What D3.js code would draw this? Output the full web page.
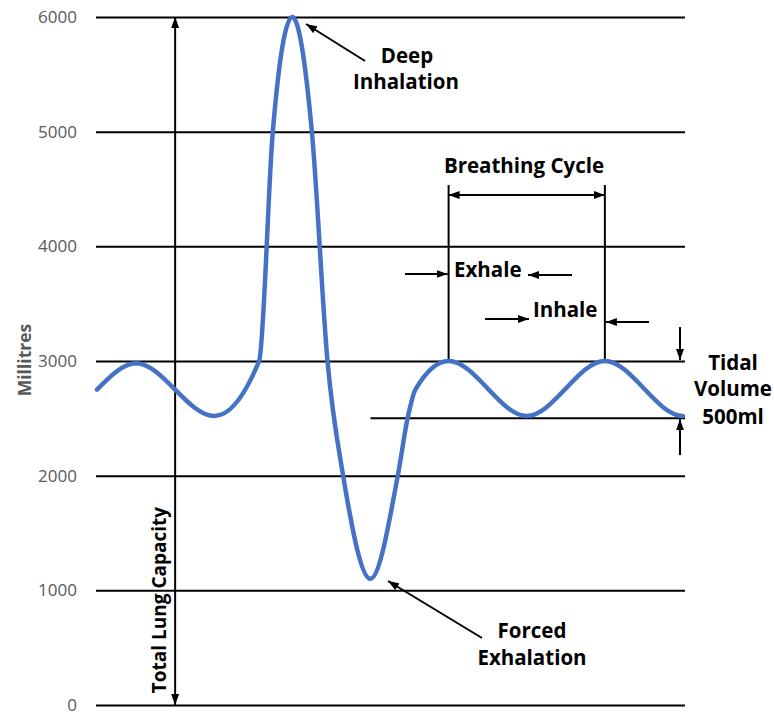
<!DOCTYPE html>
<html>
<head>
<meta charset="utf-8">
<script src="https://cdn.jsdelivr.net/npm/d3@7"></script>
<style>
  body { margin: 0; background: #fff; }
  svg text { font-family: "Open Sans", "Noto Sans", sans-serif; }
  .note { font-weight: 700; fill: #000; }
</style>
</head>
<body>
<svg id="chart" width="774" height="712"></svg>
<script>
// Spirometer trace: lung volume (ml) against time (arbitrary steps)
const timeSteps = [0, 1, 3, 4.15, 4.5, 5, 5.5, 5.9, 6.3, 7, 7.7, 7.95, 8.15, 9, 11, 13, 15];
const volumeMl  = [2750, 2980, 2520, 3000, 5000, 6000, 5000, 3000, 2000, 1100, 2000, 2500, 2750, 3000, 2520, 3000, 2520];
const yTickValues = [0, 1000, 2000, 3000, 4000, 5000, 6000];

const svg = d3.select('#chart');
const gridLeft = 96, gridRight = 685;
const x = d3.scaleLinear().domain([0, 15]).range([97, 683]);
const y = d3.scaleLinear().domain([0, 6000]).range([705, 17]);

// arrowhead marker
const defs = svg.append('defs');
defs.append('marker')
  .attr('id', 'head')
  .attr('viewBox', '0 0 11 8')
  .attr('refX', 11).attr('refY', 4)
  .attr('markerWidth', 11).attr('markerHeight', 8)
  .attr('markerUnits', 'userSpaceOnUse')
  .attr('orient', 'auto-start-reverse')
  .append('path').attr('d', 'M0,0L11,4L0,8Z').attr('fill', '#000');

// horizontal gridlines with value labels
const axis = d3.axisLeft(y)
  .tickValues(yTickValues)
  .tickSize(-(gridRight - gridLeft))
  .tickPadding(19)
  .tickFormat(d3.format('d'));
const gAxis = svg.append('g').attr('transform', `translate(${gridLeft},0)`).call(axis);
gAxis.select('.domain').remove();
gAxis.selectAll('.tick line').attr('stroke', '#000').attr('stroke-width', 2);
gAxis.selectAll('.tick text')
  .attr('fill', '#595959')
  .style('font-family', '"Open Sans", sans-serif')
  .style('font-size', '17px');

// axis title
svg.append('text')
  .attr('transform', 'translate(31,360) rotate(-90)')
  .attr('text-anchor', 'middle')
  .attr('fill', '#595959')
  .style('font-weight', 700)
  .style('font-size', '17.5px')
  .text('Millitres');

// helpers for straight arrows and bold notes
function arrow(x1, y1, x2, y2, both) {
  const l = svg.append('line')
    .attr('x1', x1).attr('y1', y1).attr('x2', x2).attr('y2', y2)
    .attr('stroke', '#000').attr('stroke-width', 2)
    .attr('marker-end', 'url(#head)');
  if (both) l.attr('marker-start', 'url(#head)');
  return l;
}
function note(tx, ty, str, anchor) {
  return svg.append('text').attr('class', 'note')
    .attr('x', tx).attr('y', ty)
    .attr('text-anchor', anchor || 'middle')
    .style('font-size', '20.5px')
    .text(str);
}

// total lung capacity span
arrow(x(2), y(0), x(2), y(6000), true);
svg.append('text').attr('class', 'note')
  .attr('transform', `translate(${x(2) - 9},600) rotate(-90)`)
  .attr('text-anchor', 'middle')
  .style('font-size', '19px')
  .text('Total Lung Capacity');

// tidal volume reference line at 2500 ml
svg.append('line')
  .attr('x1', x(7)).attr('x2', gridRight)
  .attr('y1', y(2500)).attr('y2', y(2500))
  .attr('stroke', '#000').attr('stroke-width', 2);

// breathing cycle bracket
[9, 13].forEach(t => {
  svg.append('line')
    .attr('x1', x(t)).attr('x2', x(t))
    .attr('y1', 185).attr('y2', y(3000))
    .attr('stroke', '#000').attr('stroke-width', 2);
});
arrow(x(9), 195, x(13), 195, true);
note(524, 173, 'Breathing Cycle');

// exhale / inhale markers
arrow(405, 274, x(9) - 1, 274);
note(454, 277, 'Exhale', 'start');
arrow(572, 275, 528, 275);
arrow(485, 319, 529, 319);
note(533, 317, 'Inhale', 'start');
arrow(649, 322, x(13) + 1, 322);

// tidal volume arrows
arrow(680, 327, 680, y(3000) - 1);
arrow(680, 455, 680, y(2500) + 1);
note(733, 370, 'Tidal');
note(733, 396, 'Volume');
note(733, 424, '500ml');

// monotone cubic through the readings; the trace comes to rest at its last reading
function tracePath(pts) {
  const n = pts.length, m = new Array(n).fill(0);
  for (let i = 1; i < n - 1; i++) {
    const h0 = pts[i][0] - pts[i - 1][0], h1 = pts[i + 1][0] - pts[i][0];
    const s0 = (pts[i][1] - pts[i - 1][1]) / h0, s1 = (pts[i + 1][1] - pts[i][1]) / h1;
    const p = (s0 * h1 + s1 * h0) / (h0 + h1);
    m[i] = (Math.sign(s0) + Math.sign(s1)) * Math.min(Math.abs(s0), Math.abs(s1), 0.5 * Math.abs(p)) || 0;
  }
  m[0] = (3 * (pts[1][1] - pts[0][1]) / (pts[1][0] - pts[0][0]) - m[1]) / 2;
  m[n - 1] = 0;
  const path = d3.path();
  path.moveTo(pts[0][0], pts[0][1]);
  for (let i = 1; i < n; i++) {
    const [x0, y0] = pts[i - 1], [x1, y1] = pts[i], dx = (x1 - x0) / 3;
    path.bezierCurveTo(x0 + dx, y0 + dx * m[i - 1], x1 - dx, y1 - dx * m[i], x1, y1);
  }
  return path.toString();
}

const tracePoints = timeSteps.map((t, i) => [x(t), y(volumeMl[i])]);
svg.append('path')
  .attr('d', tracePath(tracePoints))
  .attr('fill', 'none')
  .attr('stroke', '#4472C4')
  .attr('stroke-width', 4.5)
  .attr('stroke-linecap', 'round')
  .attr('stroke-linejoin', 'round');

// callouts
arrow(365, 61, 306, 24);
note(407, 63, 'Deep');
note(406, 89, 'Inhalation');
arrow(482, 638, 388, 581);
note(532, 638, 'Forced');
note(532, 665, 'Exhalation');
</script>
</body>
</html>
